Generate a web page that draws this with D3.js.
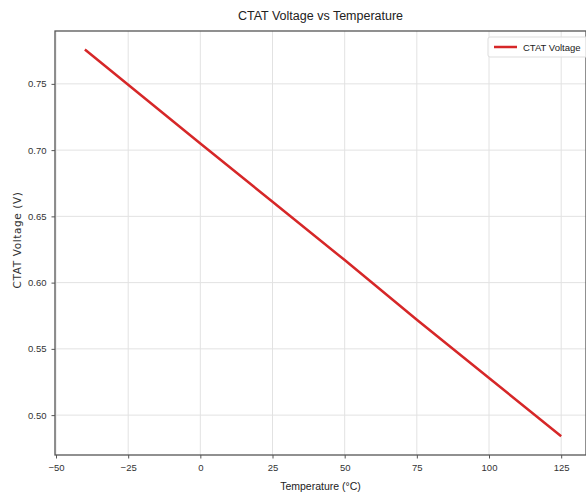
<!DOCTYPE html>
<html>
<head>
<meta charset="utf-8">
<script src="https://cdn.jsdelivr.net/npm/d3@7"></script>
<style>
  body { margin: 0; background: #fff; }
  text { font-family: "Liberation Sans", Arial, sans-serif; }
</style>
</head>
<body>
<div id="chart"></div>
<script>
// values
const temps = [-40, 0, 25, 50, 75, 100, 125];
const volts = [0.776, 0.705, 0.661, 0.617, 0.572, 0.528, 0.484];
const xTicks = [-50, -25, 0, 25, 50, 75, 100, 125];
const yTicks = [0.50, 0.55, 0.60, 0.65, 0.70, 0.75];

const W = 586, H = 497;
const margin = { top: 31, right: 0, bottom: 42, left: 55 };
const width = W - margin.left - margin.right;
const height = H - margin.top - margin.bottom;

const svg = d3.select('#chart')
  .append('svg')
  .attr('width', W)
  .attr('height', H);

const g = svg.append('g')
  .attr('transform', `translate(${margin.left},${margin.top})`);

const x = d3.scaleLinear().domain([-50.35, 133.6]).range([0, width]);
const y = d3.scaleLinear().domain([0.4699, 0.7899]).range([height, 0]);

// grid
g.append('g')
  .selectAll('line')
  .data(xTicks)
  .enter().append('line')
  .attr('x1', d => x(d)).attr('x2', d => x(d))
  .attr('y1', 0).attr('y2', height)
  .attr('stroke', '#e2e2e2')
  .attr('stroke-width', 1);

g.append('g')
  .selectAll('line')
  .data(yTicks)
  .enter().append('line')
  .attr('x1', 0).attr('x2', width)
  .attr('y1', d => y(d)).attr('y2', d => y(d))
  .attr('stroke', '#e2e2e2')
  .attr('stroke-width', 1);

// the line
const data = temps.map((t, i) => ({ t, v: volts[i] }));
g.append('path')
  .datum(data)
  .attr('fill', 'none')
  .attr('stroke', '#d62728')
  .attr('stroke-width', 2.5)
  .attr('d', d3.line().x(d => x(d.t)).y(d => y(d.v)));

// axes
const xAxis = g.append('g')
  .attr('transform', `translate(0,${height})`)
  .call(d3.axisBottom(x).tickValues(xTicks).tickFormat(d => d < 0 ? '\u2212' + Math.abs(d) : d).tickSize(3.5).tickPadding(6));

const yAxis = g.append('g')
  .call(d3.axisLeft(y).tickValues(yTicks).tickFormat(d3.format('.2f')).tickSize(3.5).tickPadding(5));

[xAxis, yAxis].forEach(a => {
  a.select('.domain').remove();
  a.selectAll('line').attr('stroke', '#555');
  a.selectAll('text').attr('fill', '#333').style('font-size', '9.5px');
});

// frame
g.append('rect')
  .attr('x', 0).attr('y', 0)
  .attr('width', width).attr('height', height)
  .attr('fill', 'none')
  .attr('stroke', '#555')
  .attr('stroke-width', 1.3);

// title and labels
svg.append('text')
  .attr('x', margin.left + width / 2)
  .attr('y', 20)
  .attr('text-anchor', 'middle')
  .attr('fill', '#222')
  .style('font-size', '12.5px')
  .text('CTAT Voltage vs Temperature');

svg.append('text')
  .attr('x', margin.left + width / 2)
  .attr('y', 490)
  .attr('text-anchor', 'middle')
  .attr('fill', '#222')
  .style('font-size', '10.5px')
  .text('Temperature (°C)');

svg.append('text')
  .attr('transform', `translate(21,240) rotate(-90)`)
  .attr('text-anchor', 'middle')
  .attr('fill', '#333')
  .style('font-family', '"DejaVu Sans", sans-serif')
  .style('font-size', '10.5px')
  .style('letter-spacing', '0.6px')
  .text('CTAT Voltage (V)');

// legend
const legend = g.append('g')
  .attr('transform', `translate(${width - 98},6)`);
legend.append('rect')
  .attr('width', 104).attr('height', 20)
  .attr('rx', 2)
  .attr('fill', '#fff')
  .attr('fill-opacity', 0.8)
  .attr('stroke', '#ddd');
legend.append('line')
  .attr('x1', 6).attr('x2', 29)
  .attr('y1', 10).attr('y2', 10)
  .attr('stroke', '#d62728')
  .attr('stroke-width', 2.5);
legend.append('text')
  .attr('x', 35).attr('y', 13.5)
  .attr('fill', '#222')
  .style('font-size', '9.5px')
  .text('CTAT Voltage');
</script>
</body>
</html>
